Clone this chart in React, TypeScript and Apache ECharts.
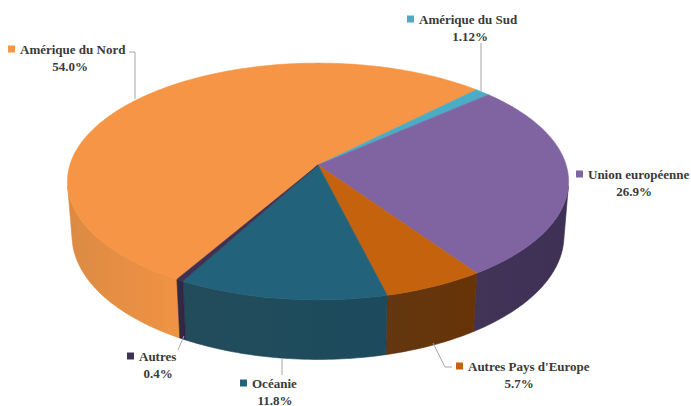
import React, { useEffect, useRef } from 'react';
import * as echarts from 'echarts';

// ---- data ----
const categories = ['Amérique du Nord', 'Amérique du Sud', 'Union européenne', "Autres Pays d'Europe", 'Océanie', 'Autres'];
const shares = [54.0, 1.12, 26.9, 5.7, 11.8, 0.4];
const valueLabels = ['54.0%', '1.12%', '26.9%', '5.7%', '11.8%', '0.4%'];

// ---- styles ----
const topColors = ['#f69545', '#4bacc6', '#8064a2', '#c4620e', '#22627a', '#3f3151'];
const sideColors = ['#db863d', '#3a8ea4', '#3a2c4f', '#5e2f07', '#1a4555', '#2c2240'];
// label layout: [markerLeftX, line1CenterY, valueCenterX]
const labelLayout: number[][] = [
  [8, 49, 70],
  [407, 19, 470],
  [576, 174, 634],
  [456, 366, 519],
  [240, 383, 275],
  [127, 356, 158],
];
const leaderLines: number[][][] = [
  [[129, 52], [135, 52], [135, 99]],
  [[481, 43], [481, 91]],
  [],
  [[433, 343], [445, 367], [452, 367]],
  [[282, 358], [282, 375]],
  [[184, 336], [178, 350]],
];

// ---- 3D projection ----
const CX = 318, CY = 165, F = 1573, D = 6.34, H = 0.25;
const TILT = (27.9 * Math.PI) / 180;
const S = Math.sin(TILT), C = Math.cos(TILT);
const START = 210; // clockwise degrees from 12 o'clock for first slice
const VIS_A = 100.3, VIS_B = 259.7; // visible outer wall range (clockwise deg)
const FONT = 'Liberation Serif';

function proj(theta: number, z: number, r = 1): number[] {
  const phi = ((90 - theta) * Math.PI) / 180;
  const X = r * Math.cos(phi), Y = r * Math.sin(phi);
  const den = D + Y * C - z * S;
  return [CX + (F * X) / den, CY - (F * (Y * S + z * C)) / den];
}

function arc(a: number, b: number, z: number): number[][] {
  const pts: number[][] = [];
  const n = Math.max(2, Math.ceil(Math.abs(b - a) / 1));
  for (let k = 0; k <= n; k++) pts.push(proj(a + ((b - a) * k) / n, z));
  return pts;
}

const total = shares.reduce((s, v) => s + v, 0);

export default function App() {
  const ref = useRef<HTMLDivElement>(null);
  useEffect(() => {
    if (!ref.current) return;
    const chart = echarts.init(ref.current, undefined, { renderer: 'svg' });

    const renderItem = (params: any, api: any) => {
      const i = params.dataIndex;
      let before = 0;
      for (let k = 0; k < i; k++) before += shares[k];
      const val = api.value(0);
      const a = START + (before / total) * 360;
      const b = a + (val / total) * 360;
      const children: any[] = [];

      // top face
      const top = [proj(0, 0, 0), ...arc(a, b, 0)];
      children.push({
        type: 'polygon',
        z2: 10,
        shape: { points: top },
        style: { fill: topColors[i], stroke: topColors[i], lineWidth: 0.6 },
      });

      // outer wall (visible part)
      for (const off of [0, 360]) {
        const lo = Math.max(a, VIS_A + off);
        const hi = Math.min(b, VIS_B + off);
        if (hi > lo) {
          const upper = arc(lo, hi, 0);
          const lower = arc(hi, lo, -H);
          children.push({
            type: 'polygon',
            z2: 5,
            shape: { points: [...upper, ...lower] },
            style: {
              fill: new echarts.graphic.LinearGradient(0, 0, 1, 0, [
                { offset: 0, color: echarts.color.lift(sideColors[i], 0.04) },
                { offset: 1, color: echarts.color.lift(sideColors[i], -0.1) },
              ]),
              stroke: sideColors[i],
              lineWidth: 0.6,
            },
          });
        }
      }

      // label
      const [mx, ly, vx] = labelLayout[i];
      children.push({
        type: 'rect',
        z2: 20,
        shape: { x: mx, y: ly - 3.5, width: 7, height: 7 },
        style: { fill: topColors[i] },
      });
      children.push({
        type: 'text',
        z2: 20,
        x: mx + 12,
        y: ly,
        style: {
          text: categories[i],
          fill: '#3a3a3a',
          fontSize: 13,
          fontWeight: 'bold',
          fontFamily: FONT,
          align: 'left',
          verticalAlign: 'middle',
        },
      });
      children.push({
        type: 'text',
        z2: 20,
        x: vx,
        y: ly + 17,
        style: {
          text: valueLabels[i],
          fill: '#3a3a3a',
          fontSize: 13,
          fontWeight: 'bold',
          fontFamily: FONT,
          align: 'center',
          verticalAlign: 'middle',
        },
      });
      if (leaderLines[i].length) {
        children.push({
          type: 'polyline',
          z2: 15,
          shape: { points: leaderLines[i] },
          style: { stroke: '#a6a6a6', lineWidth: 1, fill: 'none' },
        });
      }
      return { type: 'group', children };
    };

    chart.setOption({
      animation: false,
      backgroundColor: '#ffffff',
      series: [
        {
          type: 'custom',
          coordinateSystem: 'none',
          silent: true,
          renderItem,
          data: shares.map((v, i) => ({ value: [v], name: categories[i] })),
        },
      ],
    });
    return () => chart.dispose();
  }, []);
  return <div ref={ref} style={{ position: 'fixed', left: 0, top: 0, width: 691, height: 406 }} />;
}
